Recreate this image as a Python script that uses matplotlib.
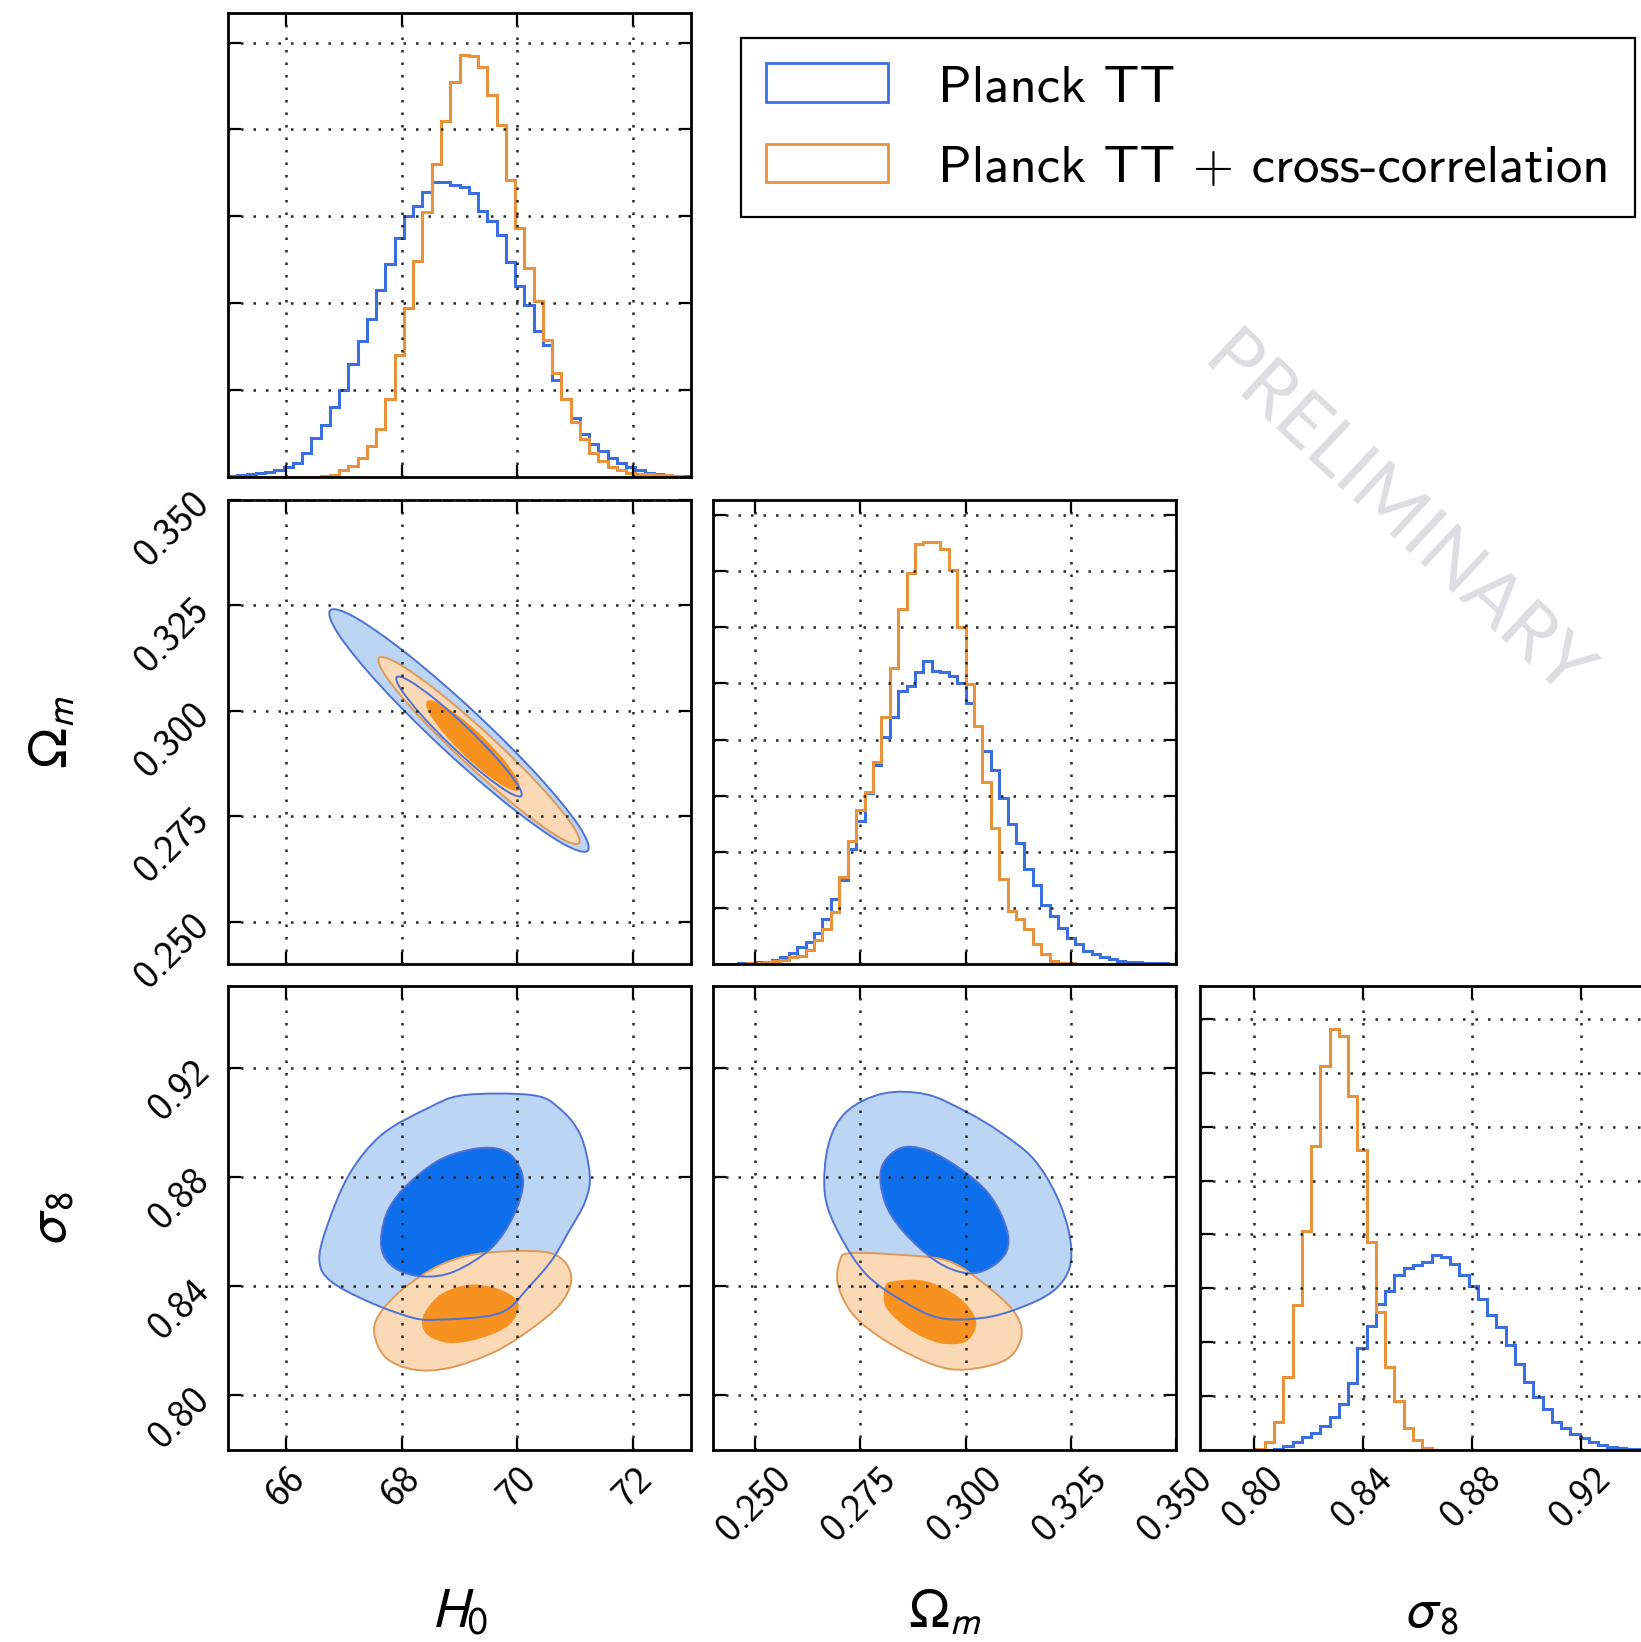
import numpy as np
import matplotlib
matplotlib.use("Agg")
import matplotlib.pyplot as plt
from matplotlib.path import Path
from matplotlib.patches import PathPatch, Patch

plt.rcParams["mathtext.fontset"] = "stixsans"

# parameter ranges
h0_lim = (65.0, 73.0)
om_lim = (0.240, 0.350)
s8_lim = (0.780, 0.950)

h0_ticks = [66, 68, 70, 72]
om_ticks = [0.250, 0.275, 0.300, 0.325, 0.350]
s8_ticks = [0.80, 0.84, 0.88, 0.92]
h0_labels = ["66", "68", "70", "72"]
om_labels = ["0.250", "0.275", "0.300", "0.325", "0.350"]
s8_labels = ["0.80", "0.84", "0.88", "0.92"]

# 1D marginals (binned counts, arbitrary units)
h0_blue = [0.01, 0.02, 0.03, 0.05, 0.06, 0.08, 0.11, 0.16, 0.28, 0.45,
           0.60, 0.80, 1.00, 1.30, 1.57, 1.82, 2.15, 2.45, 2.75, 3.00,
           3.12, 3.28, 3.40, 3.39, 3.36, 3.34, 3.27, 3.06, 2.95, 2.78,
           2.48, 2.20, 1.98, 1.68, 1.52, 1.12, 0.90, 0.68, 0.50, 0.38,
           0.30, 0.22, 0.16, 0.11, 0.08, 0.05, 0.03, 0.02, 0.01, 0.01]
h0_orange = [0, 0, 0, 0, 0, 0, 0, 0, 0, 0,
             0.01, 0.02, 0.08, 0.13, 0.22, 0.36, 0.55, 0.90, 1.40, 1.95,
             2.49, 3.05, 3.60, 4.10, 4.55, 4.86, 4.84, 4.72, 4.40, 4.05,
             3.42, 2.87, 2.40, 2.02, 1.58, 1.20, 0.90, 0.63, 0.44, 0.28,
             0.18, 0.12, 0.08, 0.05, 0.04, 0.03, 0.02, 0.02, 0.01, 0.0]

om_blue = [0, 0, 0, 0.01, 0.02, 0.03, 0.04, 0.07, 0.12, 0.20,
           0.30, 0.40, 0.56, 0.80, 1.15, 1.50, 2.05, 2.55, 3.05, 3.55,
           4.05, 4.40, 4.87, 4.95, 5.20, 5.40, 5.22, 5.20, 5.13, 5.00,
           4.65, 4.25, 3.80, 3.45, 2.95, 2.50, 2.15, 1.70, 1.40, 1.05,
           0.85, 0.65, 0.47, 0.36, 0.24, 0.18, 0.12, 0.09, 0.06, 0.04,
           0.03, 0.02, 0.01, 0.01, 0.0]
om_orange = [0, 0, 0, 0, 0.01, 0.02, 0.03, 0.05, 0.08, 0.12,
             0.15, 0.25, 0.42, 0.62, 0.92, 1.55, 2.20, 2.75, 3.07, 3.60,
             4.40, 5.28, 6.33, 6.96, 7.49, 7.52, 7.52, 7.40, 7.02, 6.00,
             4.99, 4.24, 3.25, 2.42, 1.52, 0.95, 0.80, 0.62, 0.36, 0.18,
             0.06, 0.02, 0.01, 0, 0, 0, 0, 0, 0, 0,
             0, 0, 0, 0, 0]

s8_blue = [0, 0, 0, 0, 0, 0, 0, 0, 0.02, 0.08,
           0.15, 0.24, 0.32, 0.45, 0.62, 0.85, 1.25, 1.90, 2.30, 2.70,
           2.95, 3.25, 3.38, 3.43, 3.49, 3.61, 3.58, 3.45, 3.25, 3.05,
           2.80, 2.50, 2.28, 1.94, 1.60, 1.27, 0.99, 0.77, 0.52, 0.40,
           0.30, 0.22, 0.15, 0.10, 0.06, 0.04, 0.02, 0.01, 0.01, 0.0]
s8_orange = [0, 0, 0, 0, 0, 0, 0.02, 0.15, 0.52, 1.36,
             2.69, 4.07, 5.65, 7.13, 7.81, 7.69, 6.57, 5.56, 3.86, 2.56,
             1.54, 0.90, 0.40, 0.19, 0.03, 0, 0, 0, 0, 0,
             0, 0, 0, 0, 0, 0, 0, 0, 0, 0,
             0, 0, 0, 0, 0, 0, 0, 0, 0, 0]

# 2D confidence regions (68% inner, 95% outer), boundary points
h0_om_blue_outer = [(71.217, 0.26687), (71.061, 0.27278), (70.349, 0.28474), (69.273, 0.29954),
                    (68.124, 0.31320), (67.205, 0.32211), (66.766, 0.32384), (66.921, 0.31793),
                    (67.633, 0.30597), (68.710, 0.29117), (69.859, 0.27751), (70.778, 0.26860)]
h0_om_blue_inner = [(70.068, 0.27984), (69.993, 0.28274), (69.653, 0.28865), (69.135, 0.29600),
                    (68.578, 0.30277), (68.131, 0.30716), (67.915, 0.30802), (67.989, 0.30512),
                    (68.330, 0.29920), (68.848, 0.29186), (69.404, 0.28509), (69.852, 0.28070)]
h0_om_orange_outer = [(71.065, 0.26863), (70.939, 0.27314), (70.384, 0.28233), (69.548, 0.29374),
                      (68.656, 0.30429), (67.946, 0.31120), (67.609, 0.31258), (67.735, 0.30807),
                      (68.290, 0.29887), (69.126, 0.28747), (70.018, 0.27692), (70.728, 0.27000)]
h0_om_orange_inner = [(70.030, 0.28129), (70.000, 0.28381), (69.765, 0.28847), (69.389, 0.29403),
                      (68.971, 0.29897), (68.622, 0.30201), (68.437, 0.30229), (68.466, 0.29977),
                      (68.701, 0.29512), (69.078, 0.28956), (69.496, 0.28462), (69.845, 0.28157)]

h0_s8_blue_outer = [(69.07, 0.9100), (70.26, 0.9100), (70.73, 0.9051), (71.09, 0.8954),
                    (71.25, 0.8808), (71.17, 0.8710), (70.89, 0.8601), (70.58, 0.8491),
                    (70.18, 0.8393), (69.86, 0.8320), (69.47, 0.8290), (68.68, 0.8278),
                    (68.20, 0.8284), (67.41, 0.8345), (66.78, 0.8418), (66.58, 0.8491),
                    (66.70, 0.8613), (67.09, 0.8808), (67.65, 0.8954), (68.44, 0.9051)]
h0_s8_blue_inner = [(69.63, 0.8905), (69.94, 0.8869), (70.10, 0.8783), (69.94, 0.8661),
                    (69.55, 0.8540), (68.91, 0.8454), (68.36, 0.8436), (67.88, 0.8467),
                    (67.65, 0.8540), (67.73, 0.8661), (68.04, 0.8759), (68.60, 0.8856),
                    (69.15, 0.8899)]
h0_s8_orange_outer = [(70.42, 0.8527), (70.81, 0.8491), (70.93, 0.8418), (70.73, 0.8332),
                      (70.26, 0.8247), (69.63, 0.8162), (68.83, 0.8101), (68.20, 0.8095),
                      (67.73, 0.8138), (67.53, 0.8223), (67.61, 0.8296), (68.04, 0.8393),
                      (68.68, 0.8479), (69.39, 0.8521)]
h0_s8_orange_inner = [(69.31, 0.8406), (69.78, 0.8381), (70.02, 0.8333), (69.86, 0.8259),
                      (69.39, 0.8211), (68.83, 0.8192), (68.44, 0.8223), (68.36, 0.8284),
                      (68.60, 0.8357), (68.91, 0.8393)]

om_s8_blue_outer = [(0.2804, 0.9106), (0.2907, 0.9103), (0.3002, 0.9039), (0.3081, 0.8966),
                    (0.3160, 0.8869), (0.3215, 0.8735), (0.3247, 0.8588), (0.3247, 0.8467),
                    (0.3207, 0.8381), (0.3128, 0.8320), (0.3041, 0.8284), (0.2938, 0.8284),
                    (0.2852, 0.8345), (0.2765, 0.8442), (0.2701, 0.8588), (0.2666, 0.8735),
                    (0.2674, 0.8917), (0.2717, 0.9039)]
om_s8_blue_inner = [(0.2844, 0.8905), (0.2907, 0.8899), (0.2986, 0.8832), (0.3057, 0.8735),
                    (0.3097, 0.8613), (0.3097, 0.8527), (0.3057, 0.8467), (0.3002, 0.8448),
                    (0.2931, 0.8491), (0.2852, 0.8601), (0.2808, 0.8710), (0.2800, 0.8832)]
om_s8_orange_outer = [(0.2725, 0.8521), (0.2844, 0.8515), (0.2962, 0.8491), (0.3057, 0.8393),
                      (0.3120, 0.8296), (0.3132, 0.8211), (0.3096, 0.8131), (0.3002, 0.8095),
                      (0.2923, 0.8113), (0.2812, 0.8198), (0.2733, 0.8296), (0.2697, 0.8406),
                      (0.2701, 0.8491)]
om_s8_orange_inner = [(0.2828, 0.8418), (0.2907, 0.8418), (0.2986, 0.8357), (0.3025, 0.8272),
                      (0.3002, 0.8198), (0.2938, 0.8192), (0.2867, 0.8241), (0.2812, 0.8320),
                      (0.2808, 0.8394)]

labels = ["Planck TT", "Planck TT + cross-correlation"]

BLUE_HIST = "#3b6fe0"
BLUE_EDGE = "#4f72d4"
BLUE_DARK = "#0d6fec"
BLUE_LIGHT = "#bcd5f5"
ORANGE_HIST = "#e8923c"
ORANGE_EDGE = "#df9a5a"
ORANGE_DARK = "#f7911f"
ORANGE_LIGHT = "#fcd9b6"
TICK_FONT = "cmss10"


def closed_curve(pts):
    # smooth closed bezier through the boundary points (catmull-rom)
    p = np.asarray(pts, dtype=float)
    n = len(p)
    verts = [p[0]]
    codes = [Path.MOVETO]
    for i in range(n):
        p0, p1, p2, p3 = p[i - 1], p[i], p[(i + 1) % n], p[(i + 2) % n]
        verts += [p1 + (p2 - p0) / 6.0, p2 - (p3 - p1) / 6.0, p2]
        codes += [Path.CURVE4] * 3
    verts.append(p[0])
    codes.append(Path.CLOSEPOLY)
    return Path(verts, codes)


def style(ax):
    for sp in ax.spines.values():
        sp.set_linewidth(2.0)
    ax.tick_params(direction="in", length=9, width=1.6, top=True, right=True,
                   labelsize=28, pad=8)
    ax.grid(True, color="0.15", linestyle=(0, (1, 4)), linewidth=1.8)
    ax.set_axisbelow(False)


def draw_2d(ax, b_out, b_in, o_out, o_in):
    ax.add_patch(PathPatch(closed_curve(b_out), fc=BLUE_LIGHT, ec="none", zorder=1))
    ax.add_patch(PathPatch(closed_curve(b_in), fc=BLUE_DARK, ec="none", zorder=1))
    ax.add_patch(PathPatch(closed_curve(o_out), fc=ORANGE_LIGHT, ec=ORANGE_EDGE, lw=1.4, zorder=1))
    ax.add_patch(PathPatch(closed_curve(o_in), fc=ORANGE_DARK, ec="none", zorder=1))
    ax.add_patch(PathPatch(closed_curve(b_out), fc="none", ec=BLUE_EDGE, lw=1.4, zorder=1.5))
    ax.add_patch(PathPatch(closed_curve(b_in), fc="none", ec=BLUE_EDGE, lw=1.4, zorder=1.5))


def draw_1d(ax, lim, blue, orange, top):
    edges_b = np.linspace(lim[0], lim[1], len(blue) + 1)
    edges_o = np.linspace(lim[0], lim[1], len(orange) + 1)
    ax.stairs(blue, edges_b, color=BLUE_HIST, lw=2.2)
    ax.stairs(orange, edges_o, color=ORANGE_HIST, lw=2.2)
    ax.set_ylim(0, top)
    ax.set_yticks(range(1, int(top) + 1))
    ax.set_yticklabels([])


W, H = 1641, 1642
fig = plt.figure(figsize=(W / 100, H / 100), dpi=100)
col_left = [228, 713, 1200]
row_top = [13, 500, 986]
pw, ph = 463, 464


def panel(row, col):
    return fig.add_axes([col_left[col] / W, 1 - (row_top[row] + ph) / H, pw / W, ph / H])


lims = [h0_lim, om_lim, s8_lim]
ticks = [h0_ticks, om_ticks, s8_ticks]
tick_labels = [h0_labels, om_labels, s8_labels]
names = [r"$H_0$", r"$\Omega_m$", r"$\sigma_8$"]

axes = {}
for r in range(3):
    for c in range(r + 1):
        ax = panel(r, c)
        style(ax)
        ax.set_xlim(*lims[c])
        ax.set_xticks(ticks[c])
        if r == 2:
            ax.set_xticklabels(tick_labels[c], rotation=45, fontfamily=TICK_FONT)
            ax.set_xlabel(names[c], fontsize=40)
            ax.xaxis.set_label_coords(0.5, -0.35)
            ax.xaxis.label.set_va("center")
        else:
            ax.set_xticklabels([])
        if r != c:
            ax.set_ylim(*lims[r])
            ax.set_yticks(ticks[r])
            if c == 0:
                ax.set_yticklabels(tick_labels[r], rotation=45, fontfamily=TICK_FONT)
                ax.set_ylabel(names[r], fontsize=40)
                ax.yaxis.set_label_coords(-0.38, 0.5)
                ax.yaxis.label.set_va("center")
            else:
                ax.set_yticklabels([])
        axes[(r, c)] = ax

draw_1d(axes[(0, 0)], h0_lim, h0_blue, h0_orange, 5.34)
draw_1d(axes[(1, 1)], om_lim, om_blue, om_orange, 8.27)
draw_1d(axes[(2, 2)], s8_lim, s8_blue, s8_orange, 8.61)

draw_2d(axes[(1, 0)], h0_om_blue_outer, h0_om_blue_inner, h0_om_orange_outer, h0_om_orange_inner)
draw_2d(axes[(2, 0)], h0_s8_blue_outer, h0_s8_blue_inner, h0_s8_orange_outer, h0_s8_orange_inner)
draw_2d(axes[(2, 1)], om_s8_blue_outer, om_s8_blue_inner, om_s8_orange_outer, om_s8_orange_inner)

handles = [Patch(facecolor="white", edgecolor=BLUE_HIST, linewidth=2),
           Patch(facecolor="white", edgecolor=ORANGE_HIST, linewidth=2)]
leg = fig.legend(handles, labels, loc="upper left",
                 bbox_to_anchor=(741 / W, 1 - 38 / H), bbox_transform=fig.transFigure,
                 borderaxespad=0, fancybox=False, framealpha=1, edgecolor="black",
                 prop={"family": TICK_FONT, "size": 38},
                 handlelength=2.3, handleheight=0.75, handletextpad=0.95,
                 labelspacing=0.62, borderpad=0.48)
leg.get_frame().set_linewidth(1.6)

fig.text(1396 / W, 1 - 518 / H, "PRELIMINARY", rotation=-43, rotation_mode="anchor",
         ha="center", va="center", fontsize=55, color="#dcdee1",
         family=["Lato", "DejaVu Sans"])

fig.savefig("out.png", dpi=100)
